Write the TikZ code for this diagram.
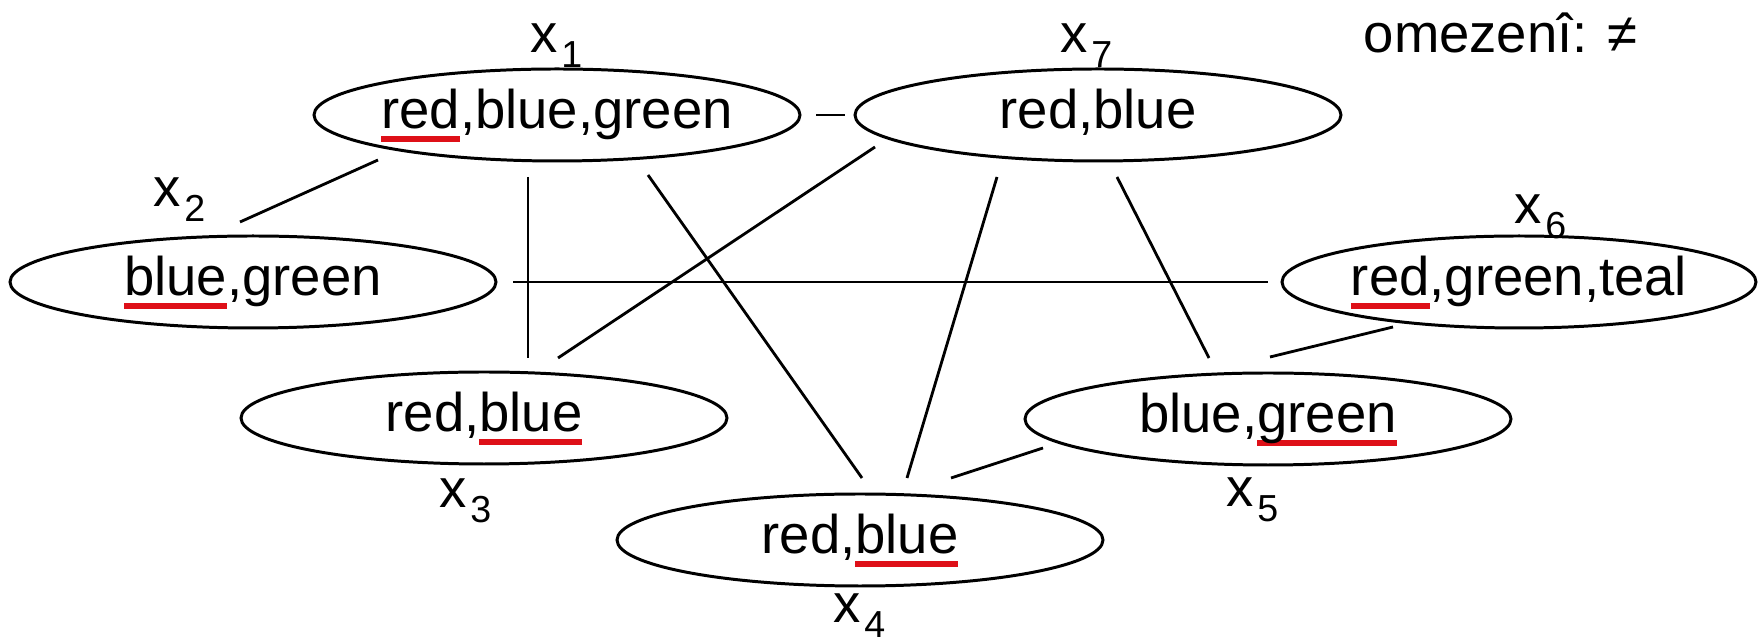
\documentclass[tikz,border=0pt]{standalone}
\usepackage{fontspec}
\setmainfont{Liberation Sans}
\usetikzlibrary{shapes.geometric}
\definecolor{ulred}{RGB}{222,16,24}
\newcommand\redul[1]{\setbox0\hbox{#1}\rlap{\color{ulred}\rule[-1.35mm]{\wd0}{0.6mm}}\box0}
\newcommand\lsub[1]{\kern0.35mm\raisebox{-1.5mm}{\fontsize{10.7pt}{12pt}\selectfont #1}}
\newcommand\ctext[1]{\makebox[0pt]{\raisebox{0pt}[3.9mm][1.1mm]{#1}}}
\begin{document}
\begin{tikzpicture}[x=0.1mm,y=-0.1mm,
  every node/.style={font=\fontsize{15.5pt}{18pt}\selectfont, inner sep=0pt},
  var/.style={ellipse, draw, line width=0.85pt, minimum width=48.6mm, minimum height=9.2mm},
  lab/.style={anchor=base west},
  edge/.style={line width=0.8pt}]
\useasboundingbox (0,0) rectangle (1759,644);
\node[var] (x1) at (557,115) {\ctext{\redul{red},blue,green}};
\node[var] (x7) at (1098,115) {\ctext{red,blue}};
\node[var] (x2) at (253,282) {\ctext{\redul{blue},green}};
\node[var, minimum width=47.4mm] (x6) at (1519,282) {\ctext{\redul{red},green,teal}};
\node[var] (x3) at (484,418) {\ctext{red,\redul{blue}}};
\node[var] (x5) at (1268,419) {\ctext{blue,\redul{green}}};
\node[var] (x4) at (860,540) {\ctext{red,\redul{blue}}};
\node[lab] (l1) at (530,53) {x\lsub{1}};
\node[lab] (l7) at (1060,53) {x\lsub{7}};
\node[lab] (l2) at (153,207) {x\lsub{2}};
\node[lab] (l6) at (1514,224) {x\lsub{6}};
\node[lab] (l3) at (439,508) {x\lsub{3}};
\node[lab] (l5) at (1226,507) {x\lsub{5}};
\node[lab] (l4) at (833,623) {x\lsub{4}};
\node[lab] (om) at (1363,53) {omezenî: ≠};
\draw[edge] ([shift={(259,0)}]x1.center) -- ([shift={(-253,0)}]x7.center);
\draw[edge] ([shift={(-179,45)}]x1.center) -- ([shift={(-13,-60)}]x2.center);
\draw[edge] ([shift={(-29,62)}]x1.center) -- ([shift={(44,-60)}]x3.center);
\draw[edge] ([shift={(91,60)}]x1.center) -- ([shift={(2,-62)}]x4.center);
\draw[edge] ([shift={(-223,32)}]x7.center) -- ([shift={(74,-60)}]x3.center);
\draw[edge] ([shift={(-101,62)}]x7.center) -- ([shift={(47,-62)}]x4.center);
\draw[edge] ([shift={(19,62)}]x7.center) -- ([shift={(-59,-61)}]x5.center);
\draw[edge] ([shift={(260,0)}]x2.center) -- ([shift={(-251,0)}]x6.center);
\draw[edge] ([shift={(-126,45)}]x6.center) -- ([shift={(2,-62)}]x5.center);
\draw[edge] ([shift={(-225,29)}]x5.center) -- ([shift={(91,-62)}]x4.center);
\end{tikzpicture}
\end{document}
